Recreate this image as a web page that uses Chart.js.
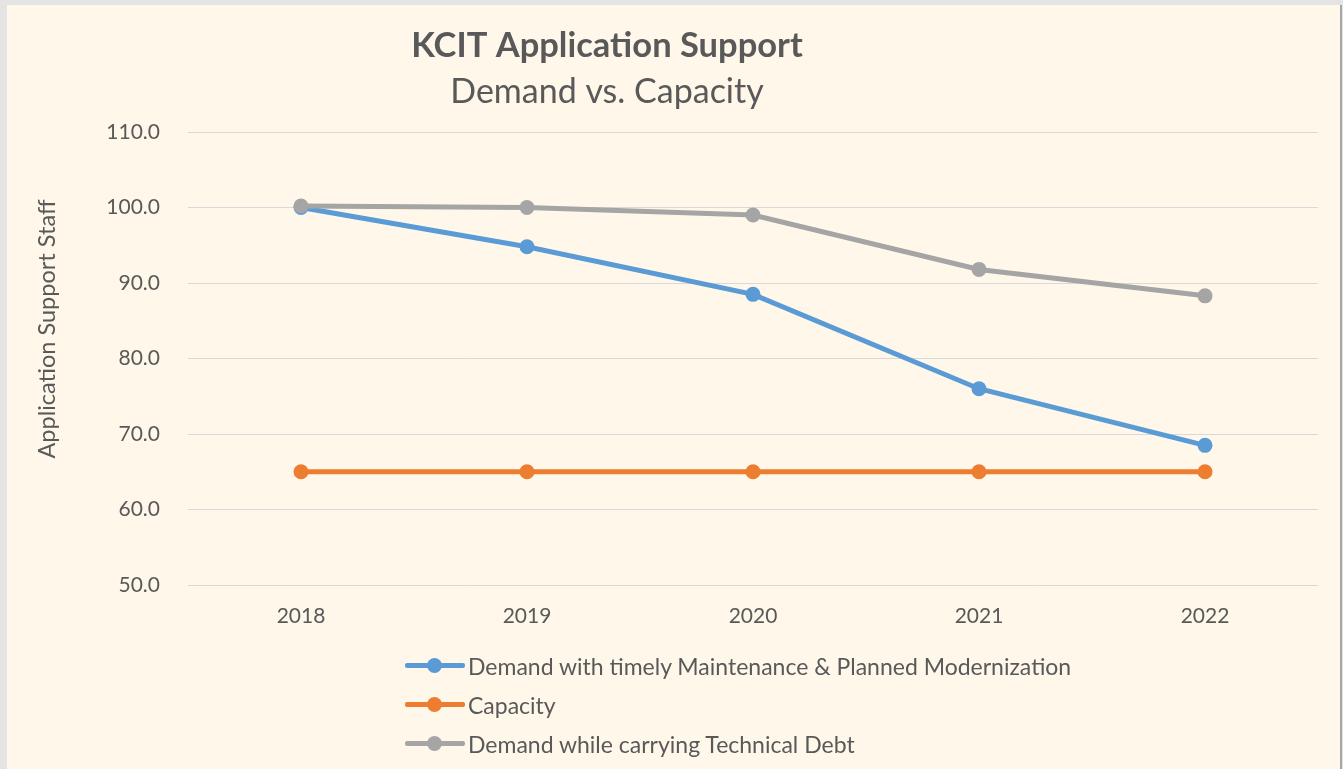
<!DOCTYPE html>
<html><head><meta charset="utf-8">
<script src="https://cdn.jsdelivr.net/npm/chart.js@4"></script>
<style>
html,body{margin:0;padding:0;background:#e4e4e4;width:1343px;height:769px;overflow:hidden;font-family:Lato, "Open Sans", sans-serif}
#frame{position:absolute;left:7px;top:5px;width:1333px;height:764px;background:#FFF8EA;border-right:2px solid #a6a6a6;}
#c{position:absolute;left:0;top:0}
#legend{position:absolute;left:398px;top:641px}
.item{display:flex;align-items:center;height:39px;color:#595959;font-size:23px;white-space:nowrap}
.sym{position:relative;width:60px;height:15px;margin-right:3px;flex:none}
.sym .ln{position:absolute;left:0;right:0;top:5px;height:5px;border-radius:2px}
.sym .dot{position:absolute;left:22px;top:0;width:15px;height:15px;border-radius:50%}
</style>
</head><body>
<div id="frame">
<canvas id="c" width="1333" height="764"></canvas>
<div id="legend"></div>
</div>
<script>
const TITLE = 'KCIT Application Support';
const SUBTITLE = 'Demand vs. Capacity';
const Y_TITLE = 'Application Support Staff';
const years = ['2018', '2019', '2020', '2021', '2022'];
const demandMaintenance = [100.0, 94.8, 88.5, 76.0, 68.5];
const capacity = [65.0, 65.0, 65.0, 65.0, 65.0];
const demandTechDebt = [100.2, 100.0, 99.0, 91.8, 88.3];
const seriesNames = ['Demand with timely Maintenance & Planned Modernization', 'Capacity', 'Demand while carrying Technical Debt'];
const seriesColors = ['#5B9BD5', '#ED7D31', '#A5A5A5'];
const TEXT = '#595959';
const FONT = 'Lato, "Open Sans", sans-serif';

function ds(i, data) {
  return {
    label: seriesNames[i], data: data, order: 3 - i,
    borderColor: seriesColors[i], backgroundColor: seriesColors[i],
    borderWidth: 5, pointRadius: 7.5, pointHoverRadius: 7.5,
    pointBackgroundColor: seriesColors[i], pointBorderColor: seriesColors[i], pointBorderWidth: 0,
    tension: 0
  };
}

const titlePlugin = {
  id: 'excelTitles',
  afterDraw(chart) {
    const ctx = chart.ctx;
    ctx.save();
    ctx.fillStyle = TEXT;
    ctx.textAlign = 'center';
    ctx.textBaseline = 'middle';
    ctx.font = 'bold 34.5px ' + FONT;
    ctx.fillText(TITLE, 600, 41);
    ctx.font = '34px ' + FONT;
    ctx.fillText(SUBTITLE, 600, 87);
    ctx.translate(40, 324);
    ctx.rotate(-Math.PI / 2);
    ctx.font = '23.5px ' + FONT;
    ctx.fillText(Y_TITLE, 0, 0);
    ctx.restore();
  }
};

const chart = new Chart(document.getElementById('c'), {
  type: 'line',
  data: {
    labels: years,
    datasets: [ds(0, demandMaintenance), ds(1, capacity), ds(2, demandTechDebt)]
  },
  options: {
    responsive: false,
    animation: false,
    layout: { padding: { top: 127, right: 22, bottom: 130, left: 0 } },
    plugins: { legend: { display: false }, title: { display: false }, tooltip: { enabled: false } },
    scales: {
      x: {
        offset: true,
        grid: { display: false, drawTicks: false },
        border: { display: false },
        ticks: { color: TEXT, font: { family: FONT, size: 21 }, padding: 19 },
        afterFit(s) { s.height = 54; }
      },
      y: {
        min: 50, max: 110,
        grid: { color: '#D9D9D9', lineWidth: 1, drawTicks: false },
        border: { display: false },
        ticks: { stepSize: 10, color: TEXT, font: { family: FONT, size: 21 }, padding: 28,
          callback: v => Number(v).toFixed(1) },
        afterFit(s) { s.width = 181; }
      }
    }
  },
  plugins: [titlePlugin]
});

const legend = document.getElementById('legend');
chart.data.datasets.forEach(d => {
  const item = document.createElement('div');
  item.className = 'item';
  const sym = document.createElement('span');
  sym.className = 'sym';
  sym.innerHTML = '<span class="ln" style="background:' + d.borderColor + '"></span><span class="dot" style="background:' + d.borderColor + '"></span>';
  const txt = document.createElement('span');
  txt.textContent = d.label;
  item.appendChild(sym);
  item.appendChild(txt);
  legend.appendChild(item);
});
</script>
</body></html>
